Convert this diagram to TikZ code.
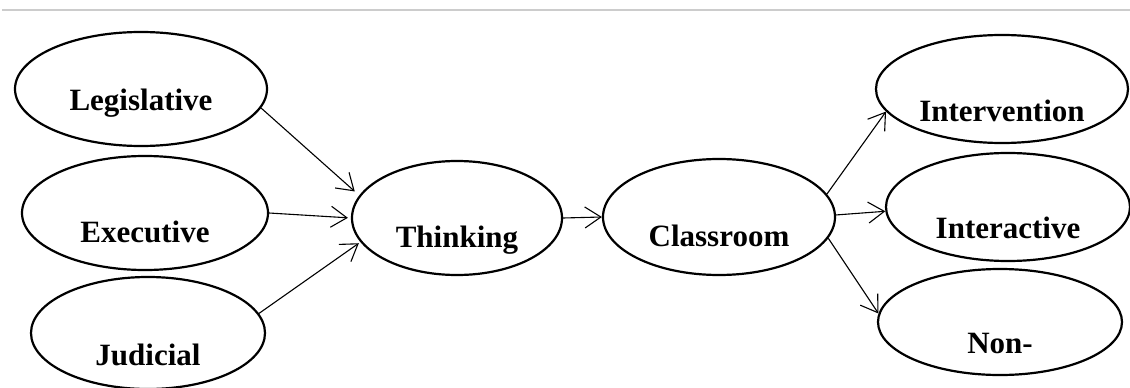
\documentclass[tikz,border=0pt]{standalone}
\usepackage{fontspec}
\setmainfont{Liberation Serif}
\usetikzlibrary{shapes.geometric,arrows.meta}
\begin{document}
\begin{tikzpicture}[x=1pt,y=-1pt,
  ell/.style={draw, ellipse, line width=2.2pt, inner sep=0pt},
  txt/.style={font=\fontsize{31}{36}\selectfont\bfseries, inner sep=0pt, anchor=base},
  conn/.style={line width=1.1pt, -{Straight Barb[length=16pt,width=21pt,line width=1.1pt]}}
]
\useasboundingbox (0,0) rectangle (1130,388);
\fill[white] (0,0) rectangle (1130,388);
\coordinate (topL) at (2,10);
\coordinate (topR) at (1130,10);
\draw[line width=1.3pt, color=black!20] (topL) -- (topR);

\node[ell, minimum width=252pt, minimum height=114pt] (leg) at (141,89) {};
\node[ell, minimum width=246pt, minimum height=114pt] (exe) at (145,213) {};
\node[ell, minimum width=234pt, minimum height=112pt] (jud) at (148,333) {};
\node[ell, minimum width=210pt, minimum height=114pt] (thi) at (457,218) {};
\node[ell, minimum width=232pt, minimum height=116pt] (cla) at (719,217) {};
\node[ell, minimum width=252pt, minimum height=108pt] (int) at (1002,89) {};
\node[ell, minimum width=244pt, minimum height=108pt] (iac) at (1008,207) {};
\node[ell, minimum width=244pt, minimum height=106pt] (non) at (1000,322) {};

\node[txt] (legt) at ([yshift=-21pt]leg.center) {Legislative};
\node[txt] (exet) at ([yshift=-29pt]exe.center) {Executive};
\node[txt] (judt) at ([yshift=-32pt]jud.center) {Judicial};
\node[txt] (thit) at ([yshift=-29pt]thi.center) {Thinking};
\node[txt] (clat) at ([yshift=-29pt]cla.center) {Classroom};
\node[txt] (intt) at ([yshift=-32pt]int.center) {Intervention};
\node[txt] (iact) at ([yshift=-31pt]iac.center) {Interactive};
\node[txt] (nont) at ([yshift=-31pt]non.center) {Non-};

\draw[conn, shorten >=6pt] (leg.-9.8) -- (thi.167.5);
\draw[conn, shorten >=3pt] (exe.0) -- (thi.180);
\draw[conn, shorten >=2pt] (jud.10.3) -- (thi.194.5);
\draw[conn] (thi.0) -- (cla.180);
\draw[conn] (cla.12.6) -- (int.191.3);
\draw[conn] (cla.1) -- (iac.182.3);
\draw[conn] (cla.-11.4) -- (non.176.8);
\end{tikzpicture}
\end{document}
